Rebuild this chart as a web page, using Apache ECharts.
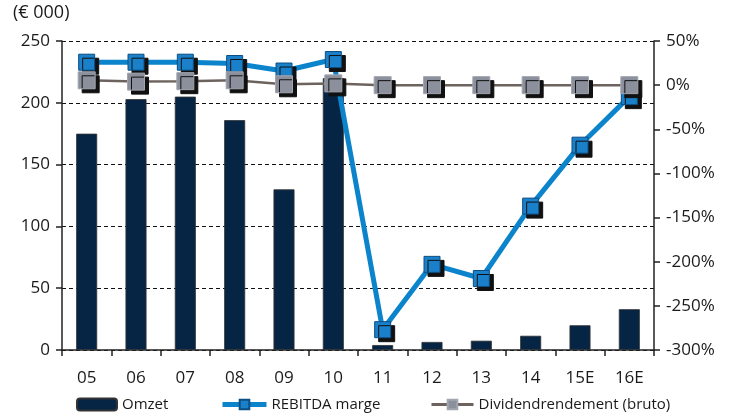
<!DOCTYPE html>
<html><head><meta charset="utf-8">
<script src="https://cdn.jsdelivr.net/npm/echarts@6/dist/echarts.min.js"></script>
<style>html,body{margin:0;padding:0;background:#fff}#c{width:739px;height:414px}</style>
</head><body><div id="c"></div>
<script>
const categories = ['05','06','07','08','09','10','11','12','13','14','15E','16E'];
const omzet = [175, 203, 205, 186, 130, 220, 4, 6.5, 7.5, 11.5, 20, 33];
const rebitdaMarge = [26, 26, 26, 24.5, 16, 29, -277, -203, -219, -137, -68, -13];
const dividend = [5.5, 4, 4.5, 5.5, 1, 2, 0, 0, 0, 0, 0, 0];
const leftTicks = [0, 50, 100, 150, 200, 250];
const rightTicks = [-300, -250, -200, -150, -100, -50, 0, 50];

const font = 'Open Sans';
const legendText = {fontSize: 15, color: '#1a1a1a', fontFamily: font};
const chart = echarts.init(document.getElementById('c'));
chart.setOption({
  animation: false,
  textStyle: {fontFamily: font},
  title: {text: '(€ 000)', left: 13, top: 4, padding: 0, textStyle: {fontSize: 18, fontWeight: 'normal', color: '#1a1a1a', fontFamily: font}},
  grid: {left: 62, right: 85, top: 41, bottom: 64},
  legend: [
    {data: ['Omzet'], left: 76, top: 397, padding: 0, itemGap: 0, itemWidth: 40, itemHeight: 12, textStyle: legendText},
    {data: ['REBITDA marge'], left: 220, top: 397, padding: 0, itemWidth: 44, itemHeight: 12, textStyle: legendText,
     lineStyle: {width: 5}},
    {data: ['Dividendrendement (bruto)'], left: 430, top: 397, padding: 0, itemWidth: 42, itemHeight: 12, textStyle: legendText,
     lineStyle: {width: 3}}
  ],
  xAxis: {
    type: 'category', data: categories,
    axisLine: {lineStyle: {color: '#222', width: 1.5}},
    axisTick: {show: true, length: 6, lineStyle: {color: '#222', width: 1.5}},
    axisLabel: {fontSize: 17, color: '#1a1a1a', margin: 20, fontFamily: font}
  },
  yAxis: [
    {type: 'value', min: leftTicks[0], max: leftTicks[leftTicks.length-1], interval: 50, position: 'left',
     axisLine: {show: true, lineStyle: {color: '#222', width: 1.5}},
     axisTick: {show: true, length: 6, lineStyle: {color: '#222', width: 1.5}},
     axisLabel: {fontSize: 17, color: '#1a1a1a', margin: 12, fontFamily: font},
     splitLine: {show: true, lineStyle: {color: '#111', type: [4, 3], width: 1}}},
    {type: 'value', min: rightTicks[0], max: rightTicks[rightTicks.length-1], interval: 50, position: 'right',
     axisLine: {show: true, lineStyle: {color: '#222', width: 1.5}},
     axisTick: {show: true, length: 6, lineStyle: {color: '#222', width: 1.5}},
     axisLabel: {fontSize: 17, color: '#1a1a1a', margin: 12, formatter: '{value}%', fontFamily: font},
     splitLine: {show: false}}
  ],
  series: [
    {name: 'Omzet', type: 'bar', data: omzet, yAxisIndex: 0, barWidth: 21,
     itemStyle: {color: '#062545', borderColor: '#333', borderWidth: 0.8}},
    {name: 'REBITDA marge', type: 'line', data: rebitdaMarge, yAxisIndex: 1,
     symbol: 'rect', symbolSize: 16,
     lineStyle: {color: '#0b84cc', width: 5},
     itemStyle: {color: '#1a80c9', borderColor: '#0b4f85', borderWidth: 1,
                 shadowColor: '#111', shadowBlur: 0, shadowOffsetX: 4, shadowOffsetY: 4}},
    {name: 'Dividendrendement (bruto)', type: 'line', data: dividend, yAxisIndex: 1,
     symbol: 'rect', symbolSize: 17,
     lineStyle: {color: '#6d635e', width: 2.5},
     itemStyle: {color: '#8b909c', borderColor: '#a2a6b0', borderWidth: 1,
                 shadowColor: '#111', shadowBlur: 0, shadowOffsetX: 4, shadowOffsetY: 4}}
  ]
});
</script></body></html>
